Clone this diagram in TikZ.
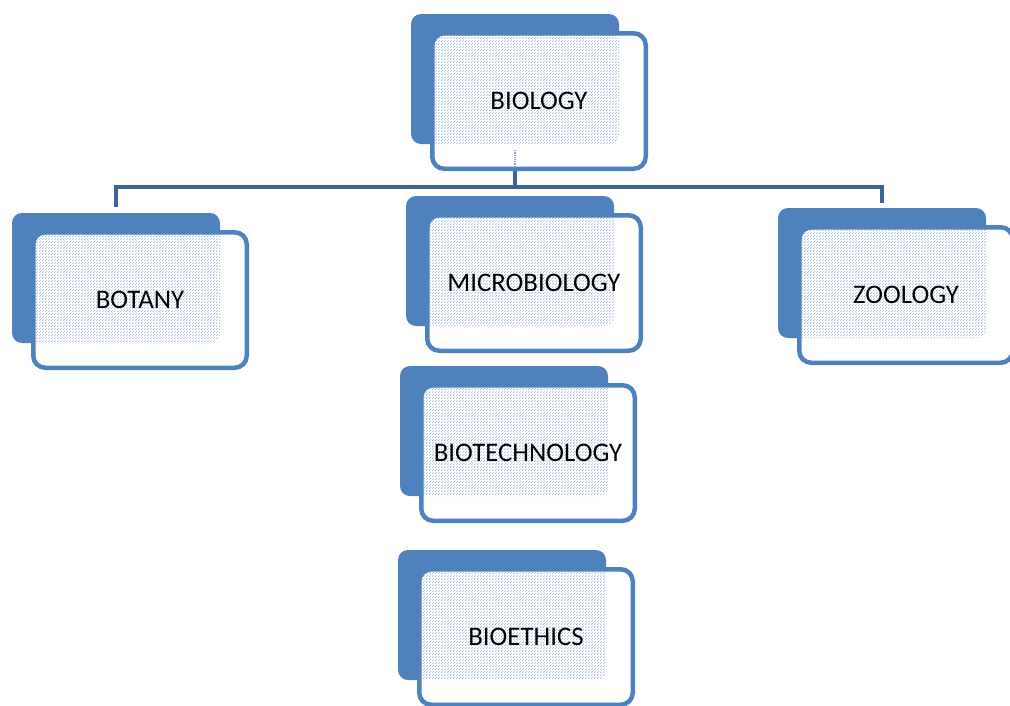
\documentclass[tikz,border=0pt]{standalone}
\usepackage{fontspec}
\setmainfont{Carlito}
\usetikzlibrary{patterns.meta}

\definecolor{boxblue}{RGB}{79,129,189}
\definecolor{linkblue}{RGB}{62,100,150}
\definecolor{dotblue}{RGB}{135,165,212}

% fine halftone used where the front card overlaps the card behind it
\tikzdeclarepattern{
  name=finedots,
  type=uncolored,
  bounding box={(0pt,0pt) and (3pt,3pt)},
  tile size={(3pt,3pt)},
  code={\fill (0.75pt,0.75pt) circle (0.6pt); \fill (2.25pt,2.25pt) circle (0.6pt);}
}

\tikzset{
  backbox/.style={fill=boxblue, rounded corners=10pt, minimum width=208pt,
    minimum height=130pt, inner sep=0pt},
  frontbox/.style={fill=white, draw=boxblue, line width=4.5pt, rounded corners=12pt,
    minimum width=213.5pt, minimum height=135.5pt, inner sep=0pt,
    font=\fontsize{26.8}{32}\selectfont, text=black},
  link/.style={draw=linkblue, line width=4.5pt},
}

% #1 name, #2/#3 centre of the front card, #4 label
\newcommand\subjectbox[4]{%
  \node[backbox] (#1-back) at ({#2-24},{#3-22}) {};
  \node[frontbox, path picture={%
      \clip[rounded corners=10pt] (#1-back.north west) rectangle (#1-back.south east);
      \fill[pattern={finedots}, pattern color=dotblue]
        (path picture bounding box.south west) rectangle (path picture bounding box.north east);}]
    (#1) at (#2,#3) {#4};
}

\begin{document}
\begin{tikzpicture}[x=1pt, y=-1pt]
  \useasboundingbox (0,0) rectangle (1010,705);
  \clip (0,0) rectangle (1010,705);

  \subjectbox{bio}{539}{101}{BIOLOGY}
  \subjectbox{bot}{140}{300}{BOTANY}
  \subjectbox{mic}{534}{283}{MICROBIOLOGY}
  \subjectbox{zoo}{906}{295}{ZOOLOGY}
  \subjectbox{tec}{528}{453}{BIOTECHNOLOGY}
  \subjectbox{eth}{526}{637}{BIOETHICS}

  % tree connectors
  \coordinate (hub) at (bio-back |- 0,187);
  \draw[link] (bio.south -| bio-back) -- (hub);
  \draw[link, shorten >=6pt] (hub) -| (bot-back.north);
  \draw[link, shorten >=5pt] (hub) -| (zoo-back.north);
  \draw[densely dotted, line width=1.2pt, dotblue]
    ([yshift=-6pt]bio-back.south) -- ++(0,16);
\end{tikzpicture}
\end{document}
